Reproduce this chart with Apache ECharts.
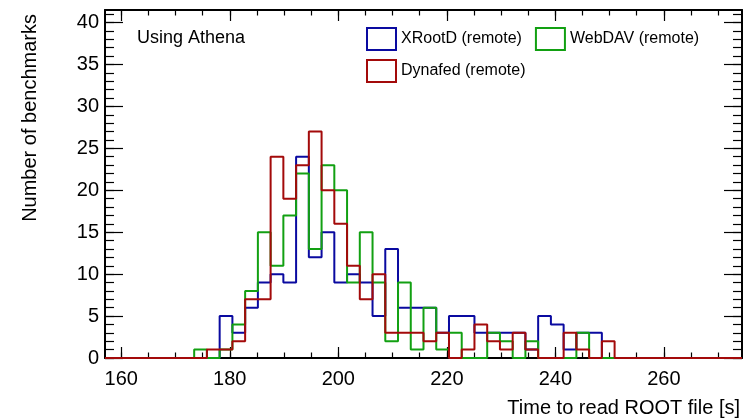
<!DOCTYPE html>
<html>
<head>
<meta charset="utf-8">
<script src="https://cdn.jsdelivr.net/npm/echarts@6/dist/echarts.min.js"></script>
<style>
  html, body { margin: 0; padding: 0; background: #fff; }
  #chart { width: 743px; height: 419px; }
</style>
</head>
<body>
<div id="chart"></div>
<script>
// histogram binning (50 bins)
const binStart = 157;
const binWidth = 2.348;

const seriesNames = ['XRootD (remote)', 'WebDAV (remote)', 'Dynafed (remote)'];
const seriesColors = ['#0a0aa0', '#12a012', '#a30a0a'];

// counts per bin
const xrootdCounts = [0, 0, 0, 0, 0, 0, 0, 0, 0, 5, 3, 6, 9, 10, 9, 24, 12, 15, 9, 10,
    9, 5, 13, 6, 6, 6, 3, 5, 5, 3, 3, 3, 3, 1, 5, 4, 1, 3, 3, 0,
    0, 0, 0, 0, 0, 0, 0, 0, 0, 0];
const webdavCounts = [0, 0, 0, 0, 0, 0, 0, 1, 0, 1, 4, 8, 15, 11, 17, 22, 13, 23, 20, 9,
    15, 9, 2, 9, 1, 6, 1, 3, 0, 0, 3, 2, 0, 2, 0, 0, 0, 3, 0, 0,
    0, 0, 0, 0, 0, 0, 0, 0, 0, 0];
const dynafedCounts = [0, 0, 0, 0, 0, 0, 0, 0, 1, 1, 2, 7, 7, 24, 19, 23, 27, 20, 16, 11,
    7, 10, 3, 3, 3, 2, 3, 0, 1, 4, 2, 1, 3, 1, 0, 0, 3, 1, 0, 2,
    0, 0, 0, 0, 0, 0, 0, 0, 0, 0];

const xMajorTicks = [160, 180, 200, 220, 240, 260];
const xMinorTicks = [];
for (let v = 160; v <= 270; v += 5) xMinorTicks.push(v);
const yMajorTicks = [0, 5, 10, 15, 20, 25, 30, 35, 40];
const yMinorTicks = [];
for (let v = 0; v <= 41; v++) yMinorTicks.push(v);

const xMin = binStart;
const xMax = binStart + xrootdCounts.length * binWidth;
const yMax = 41.5;

const font = 'Liberation Sans, Arial, Helvetica, sans-serif';

function stepData(counts) {
    const pts = counts.map((c, i) => [binStart + i * binWidth, c]);
    pts.push([binStart + counts.length * binWidth, counts[counts.length - 1]]);
    return pts;
}

function xAxisOf(pos, ticks, len, labels, line) {
    return {
        type: 'value', position: pos, min: xMin, max: xMax,
        axisLine: { show: line, onZero: false, lineStyle: { color: '#000', width: 2 } },
        axisTick: { show: true, inside: true, length: len, customValues: ticks, lineStyle: { color: '#000', width: 1.2 } },
        axisLabel: labels ? { show: true, customValues: ticks, fontSize: 20, color: '#000', fontFamily: font, margin: 11 } : { show: false },
        splitLine: { show: false }
    };
}

function yAxisOf(pos, ticks, len, labels, line) {
    return {
        type: 'value', position: pos, min: 0, max: yMax,
        axisLine: { show: line, onZero: false, lineStyle: { color: '#000', width: 2 } },
        axisTick: { show: true, inside: true, length: len, customValues: ticks, lineStyle: { color: '#000', width: 1.2 } },
        axisLabel: labels ? { show: true, customValues: ticks, fontSize: 20, color: '#000', fontFamily: font, margin: 6 } : { show: false },
        splitLine: { show: false }
    };
}

const chart = echarts.init(document.getElementById('chart'));

const counts = [xrootdCounts, webdavCounts, dynafedCounts];
const series = counts.map((c, i) => ({
    name: seriesNames[i],
    type: 'line',
    step: 'end',
    xAxisIndex: 0,
    yAxisIndex: 0,
    data: stepData(c),
    symbol: 'none',
    clip: false,
    color: seriesColors[i],
    lineStyle: { color: seriesColors[i], width: 2 }
}));

function legendItem(i) {
    return { name: seriesNames[i], itemStyle: { color: '#fff', borderColor: seriesColors[i], borderWidth: 2 } };
}

const option = {
    animation: false,
    backgroundColor: '#fff',
    grid: { left: 105, right: 1, top: 10, bottom: 61 },
    xAxis: [
        xAxisOf('bottom', xMajorTicks, 11, true, true),
        xAxisOf('bottom', xMinorTicks, 5.5, false, false),
        xAxisOf('top', xMajorTicks, 11, false, true),
        xAxisOf('top', xMinorTicks, 5.5, false, false)
    ],
    yAxis: [
        yAxisOf('left', yMajorTicks, 18, true, true),
        yAxisOf('left', yMinorTicks, 9, false, false),
        yAxisOf('right', yMajorTicks, 18, false, true),
        yAxisOf('right', yMinorTicks, 9, false, false)
    ],
    legend: [
        {
            left: 366, top: 27, padding: 0, itemWidth: 29, itemHeight: 22, itemGap: 13, icon: 'rect',
            textStyle: { fontSize: 16, color: '#000', fontFamily: font },
            data: [legendItem(0), legendItem(1)]
        },
        {
            left: 366, top: 59, padding: 0, itemWidth: 29, itemHeight: 22, icon: 'rect',
            textStyle: { fontSize: 16, color: '#000', fontFamily: font },
            data: [legendItem(2)]
        }
    ],
    graphic: [
        { type: 'text', x: 137, y: 38, style: { text: 'Using Athena', fontSize: 18, fontFamily: font, fill: '#000', textVerticalAlign: 'middle' } },
        { type: 'text', x: 30, y: 14, rotation: Math.PI / 2, style: { text: 'Number of benchmarks', fontSize: 20, fontFamily: font, fill: '#000', textAlign: 'right', textVerticalAlign: 'middle' } },
        { type: 'text', x: 740, y: 408, style: { text: 'Time to read ROOT file [s]', fontSize: 20, fontFamily: font, fill: '#000', textAlign: 'right', textVerticalAlign: 'middle' } }
    ],
    series: series
};

chart.setOption(option);
</script>
</body>
</html>
